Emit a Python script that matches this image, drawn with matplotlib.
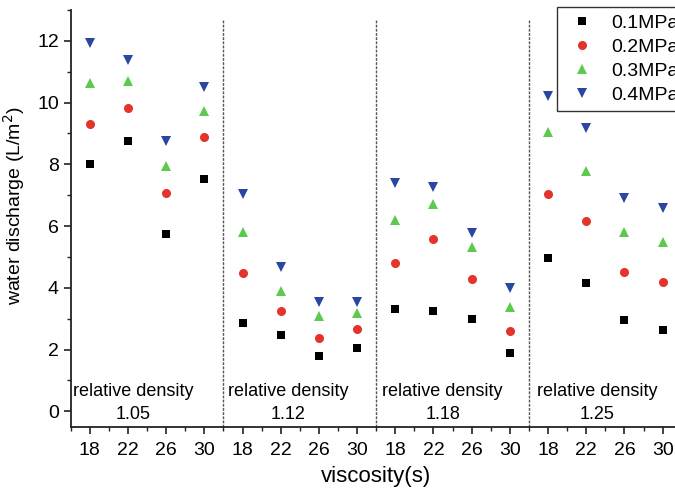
import matplotlib
matplotlib.use('Agg')
import matplotlib.pyplot as plt
from matplotlib.ticker import MultipleLocator

plt.rcParams['font.family'] = ['Liberation Sans', 'DejaVu Sans']

viscosity = ['18', '22', '26', '30']
densities = ['1.05', '1.12', '1.18', '1.25']
pressures = ['0.1MPa', '0.2MPa', '0.3MPa', '0.4MPa']

# discharge per (density group, viscosity), 16 values each
p01 = [8.01, 8.75, 5.73, 7.52,
       2.86, 2.47, 1.79, 2.05,
       3.31, 3.24, 2.98, 1.90,
       4.97, 4.17, 2.96, 2.63]
p02 = [9.30, 9.83, 7.06, 8.88,
       4.47, 3.24, 2.37, 2.66,
       4.81, 5.59, 4.30, 2.59,
       7.03, 6.16, 4.50, 4.19]
p03 = [10.63, 10.70, 7.96, 9.73,
       5.80, 3.90, 3.08, 3.17,
       6.20, 6.71, 5.33, 3.38,
       9.06, 7.79, 5.82, 5.49]
p04 = [11.92, 11.38, 8.76, 10.52,
       7.04, 4.66, 3.53, 3.55,
       7.38, 7.26, 5.76, 3.98,
       10.23, 9.17, 6.90, 6.57]

series = [p01, p02, p03, p04]
markers = ['s', 'o', '^', 'v']
sizes = [5.6, 6.5, 7.7, 7.7]
colors = ['#000000', '#e3332a', '#5ec94f', '#2b45a3']

x = list(range(len(p01)))
tick_labels = viscosity * len(densities)

fig = plt.figure(figsize=(6.75, 4.95), dpi=100)
ax = fig.add_axes([70.7 / 675, 68.3 / 495, 611 / 675, 416.7 / 495])

for vals, m, ms, c, lab in zip(series, markers, sizes, colors, pressures):
    ax.plot(x, vals, linestyle='none', marker=m, markersize=ms,
            color=c, markeredgewidth=0, label=lab)

# separators between density groups
for b in [3.5, 7.5, 11.5]:
    ax.plot([b, b], [-0.5, 12.66], linestyle=(0, (2, 1)), color='#555555',
            linewidth=1.0)

text_x = [1.13, 5.19, 9.24, 13.29]
for tx, d in zip(text_x, densities):
    ax.text(tx, 0.63, 'relative density', ha='center', va='center', fontsize=13)
    ax.text(tx, -0.12, d, ha='center', va='center', fontsize=13)

ax.set_xlim(-0.5, 15.5)
ax.set_ylim(-0.5, 13)
ax.set_xticks(x)
ax.set_xticklabels(tick_labels)
ax.xaxis.set_minor_locator(MultipleLocator(0.5))
ax.yaxis.set_major_locator(MultipleLocator(2))
ax.yaxis.set_minor_locator(MultipleLocator(1))

for side in ['top', 'right']:
    ax.spines[side].set_visible(False)
for side in ['left', 'bottom']:
    ax.spines[side].set_linewidth(1.3)
    ax.spines[side].set_color('#222222')

ax.tick_params(which='major', direction='out', length=5, width=1.2,
               labelsize=14, colors='#222222', labelcolor='black')
ax.tick_params(which='minor', direction='out', length=3, width=1.0,
               colors='#222222')
ax.tick_params(axis='x', pad=6)

ax.set_xlabel('viscosity(s)', fontsize=16, labelpad=5)
ax.set_ylabel('water discharge (L/m$^2$)', fontsize=14)
ax.yaxis.set_label_coords(-0.0715, 0.53)

leg = fig.legend(loc='upper left', bbox_to_anchor=(557.3 / 675, 1 - 7.3 / 495),
                 fontsize=14, frameon=True, fancybox=False,
                 edgecolor='black', handlelength=1.8, handletextpad=0.6,
                 borderpad=0.35, labelspacing=0.33, borderaxespad=0)
leg.get_frame().set_linewidth(1.0)

fig.savefig('out.png', dpi=100)
